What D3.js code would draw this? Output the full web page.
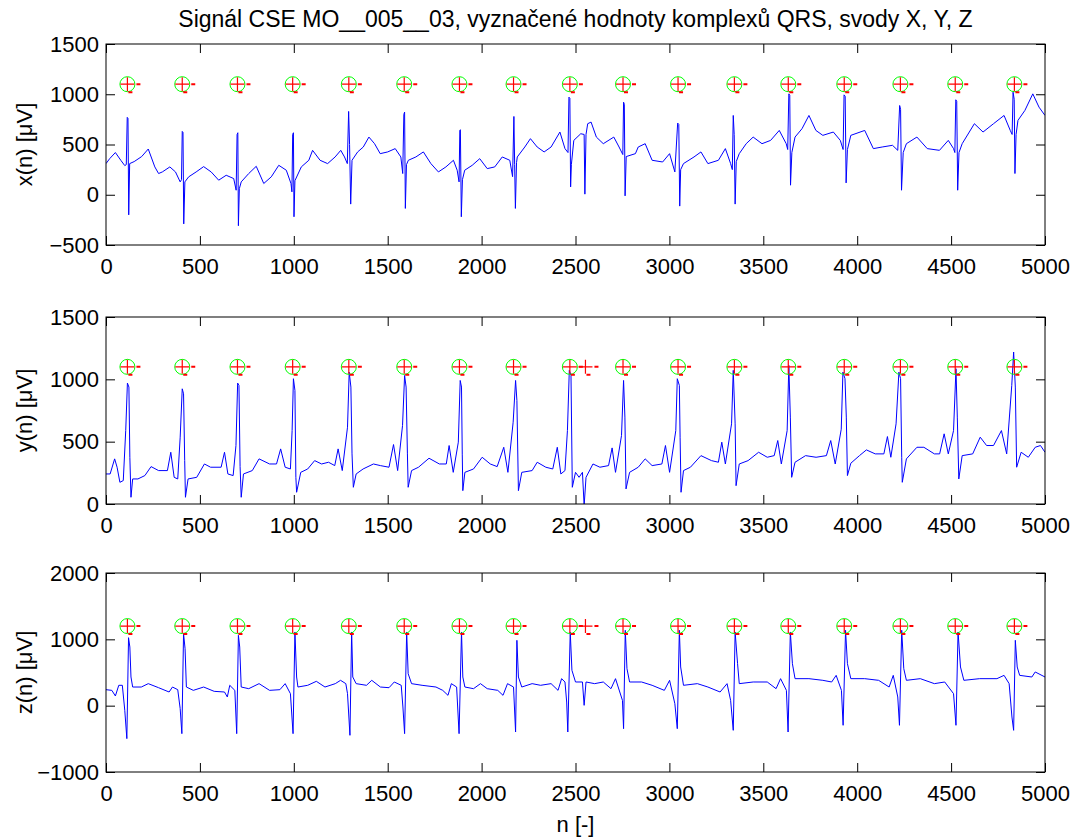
<!DOCTYPE html>
<html>
<head>
<meta charset="UTF-8">
<script src="https://d3js.org/d3.v7.min.js"></script>
<style>
  body { margin: 0; background: #fff; }
  text { font-family: "Liberation Sans", Arial, sans-serif; fill: #000; }
</style>
</head>
<body>
<svg width="1075" height="838"></svg>
<script>
// samples n of the detected QRS complexes
const qrsPos = [114, 406, 700, 994, 1293, 1588, 1882, 2170, 2470, 2753, 3046, 3346, 3633, 3931, 4230, 4522, 4837];
const extraPos = [2553];
const xTicks = [0, 500, 1000, 1500, 2000, 2500, 3000, 3500, 4000, 4500, 5000];

// lead X  [n, uV]
const leadX = [[0,310],[20,360],[50,420],[80,340],[100,290],[108,300],[113,770],[117,760],[121,-200],[126,310],[150,330],[190,380],[225,455],[260,277],[280,211],[300,227],[340,277],[370,227],[395,128],[402,150],[406,630],[410,620],[414,-290],[420,128],[440,178],[480,227],[520,280],[560,227],[600,145],[640,194],[680,161],[693,45],[698,600],[702,617],[705,-308],[710,60],[720,128],[760,211],[800,283],[840,112],[880,178],[920,293],[960,244],[985,112],[990,29],[994,600],[998,617],[1001,-219],[1006,140],[1040,277],[1080,343],[1100,442],[1140,343],[1180,310],[1220,376],[1250,442],[1270,376],[1285,310],[1292,829],[1297,500],[1303,-93],[1310,343],[1340,426],[1370,475],[1400,574],[1430,508],[1460,409],[1500,426],[1540,459],[1570,376],[1580,211],[1586,800],[1590,822],[1594,-136],[1600,300],[1610,343],[1650,376],[1690,426],[1730,310],[1770,227],[1810,277],[1850,343],[1870,244],[1880,128],[1884,640],[1887,647],[1892,-219],[1898,150],[1910,244],[1950,293],[1990,359],[2030,260],[2070,277],[2110,376],[2150,343],[2165,180],[2172,779],[2176,300],[2180,-136],[2186,320],[2190,376],[2230,475],[2260,558],[2296,475],[2333,426],[2370,475],[2417,624],[2444,459],[2460,420],[2465,971],[2470,960],[2474,78],[2478,300],[2491,541],[2528,607],[2546,600],[2550,6],[2556,600],[2565,707],[2583,723],[2611,574],[2648,508],[2704,574],[2732,475],[2752,400],[2756,921],[2760,900],[2764,-11],[2770,380],[2819,409],[2834,475],[2871,508],[2908,343],[2964,326],[3001,409],[3029,227],[3044,713],[3050,700],[3055,-113],[3060,250],[3075,310],[3131,376],[3168,426],[3205,310],[3261,343],[3298,459],[3326,310],[3335,250],[3340,789],[3345,600],[3350,-93],[3356,330],[3372,409],[3409,508],[3446,574],[3493,508],[3539,541],[3585,640],[3622,508],[3630,450],[3636,1004],[3641,990],[3645,95],[3652,420],[3669,574],[3706,657],[3743,789],[3780,640],[3817,591],[3873,624],[3910,541],[3925,450],[3930,994],[3936,980],[3941,118],[3948,450],[3966,591],[4040,640],[4086,459],[4133,475],[4188,492],[4216,442],[4226,888],[4231,850],[4236,45],[4245,420],[4262,508],[4318,574],[4373,459],[4438,442],[4485,541],[4513,459],[4520,420],[4525,945],[4530,930],[4535,45],[4542,420],[4559,508],[4624,707],[4670,624],[4726,707],[4782,789],[4815,640],[4825,600],[4830,1020],[4836,950],[4840,211],[4846,600],[4856,740],[4893,839],[4935,1004],[4968,872],[5000,789]];

// lead Y  [n, uV]
const leadY = [[0,241],[22,241],[46,362],[59,295],[74,174],[92,188],[105,589],[114,970],[122,938],[127,375],[133,54],[142,201],[170,201],[207,228],[240,300],[280,268],[327,268],[345,415],[363,214],[382,201],[395,536],[406,924],[413,884],[419,348],[423,54],[437,201],[483,214],[524,321],[557,295],[613,295],[631,415],[649,241],[677,228],[692,469],[701,970],[708,951],[714,300],[720,54],[732,241],[779,268],[815,362],[871,321],[908,321],[930,442],[954,295],[982,281],[991,589],[998,1005],[1006,911],[1011,214],[1015,94],[1037,254],[1074,281],[1111,348],[1148,321],[1185,335],[1218,308],[1236,442],[1258,268],[1286,616],[1295,1058],[1304,938],[1310,402],[1317,134],[1332,241],[1369,281],[1424,321],[1461,308],[1507,295],[1531,477],[1553,268],[1579,630],[1590,1031],[1598,938],[1605,402],[1609,134],[1627,268],[1664,295],[1720,367],[1775,321],[1812,321],[1827,469],[1849,254],[1876,496],[1886,991],[1893,938],[1897,400],[1900,107],[1911,254],[1957,281],[2003,375],[2046,321],[2083,300],[2118,455],[2140,254],[2168,656],[2181,991],[2188,830],[2196,107],[2214,254],[2269,268],[2296,335],[2342,295],[2379,281],[2403,455],[2422,241],[2444,268],[2457,589],[2467,1072],[2476,1031],[2483,134],[2500,254],[2519,214],[2537,254],[2546,-13],[2556,214],[2593,321],[2630,295],[2676,308],[2695,450],[2713,254],[2745,549],[2756,991],[2763,697],[2769,121],[2788,254],[2834,295],[2871,362],[2908,308],[2960,321],[2979,469],[3001,254],[3034,589],[3042,1005],[3053,951],[3057,536],[3062,94],[3075,268],[3112,295],[3168,388],[3224,348],[3261,335],[3279,496],[3298,321],[3331,643],[3340,1072],[3350,643],[3355,147],[3372,321],[3419,348],[3475,415],[3521,375],[3558,388],[3577,509],[3596,321],[3627,589],[3636,1112],[3644,697],[3651,214],[3669,335],[3725,388],[3781,375],[3836,388],[3859,509],[3883,321],[3915,600],[3924,1058],[3935,1005],[3942,697],[3948,228],[3966,327],[4012,388],[4049,434],[4096,402],[4142,402],[4161,541],[4179,375],[4207,643],[4222,1058],[4231,1005],[4237,375],[4240,174],[4262,362],[4318,455],[4355,455],[4411,402],[4439,402],[4463,563],[4485,402],[4513,589],[4526,1085],[4533,697],[4541,201],[4559,388],[4615,402],[4655,536],[4689,469],[4726,469],[4768,589],[4796,402],[4823,951],[4833,1219],[4842,938],[4849,295],[4873,415],[4911,375],[4948,455],[4976,469],[5000,415]];

// lead Z  [n, uV]
const leadZ = [[0,241],[31,231],[50,146],[68,307],[87,307],[100,-70],[111,-497],[120,1025],[127,884],[133,432],[142,281],[188,281],[225,332],[280,271],[336,206],[354,281],[382,241],[395,-45],[404,-422],[413,1085],[421,859],[428,281],[465,231],[520,281],[576,216],[631,206],[646,131],[659,307],[686,231],[696,-422],[705,1060],[712,884],[720,281],[760,256],[815,332],[871,231],[926,241],[954,332],[982,181],[996,-422],[1006,1111],[1015,432],[1022,281],[1074,307],[1120,367],[1166,281],[1221,332],[1249,382],[1277,332],[1286,181],[1299,-447],[1308,1111],[1314,432],[1332,332],[1387,307],[1415,382],[1461,281],[1507,271],[1535,357],[1572,307],[1581,-20],[1590,-422],[1601,1111],[1609,482],[1627,332],[1683,307],[1757,281],[1793,231],[1821,156],[1839,332],[1867,281],[1880,-422],[1893,1111],[1900,432],[1911,281],[1957,256],[1994,332],[2030,256],[2086,231],[2114,156],[2138,332],[2170,281],[2181,-397],[2188,985],[2196,432],[2214,281],[2269,332],[2314,307],[2370,332],[2407,231],[2426,407],[2444,357],[2453,55],[2459,-397],[2472,1111],[2481,533],[2500,357],[2537,357],[2546,5],[2556,357],[2602,332],[2648,357],[2689,256],[2713,407],[2750,80],[2756,-347],[2765,1136],[2774,558],[2788,357],[2852,357],[2908,307],[2973,231],[3001,382],[3029,30],[3042,-347],[3053,1136],[3060,583],[3075,307],[3149,332],[3205,281],[3270,206],[3307,332],[3326,80],[3340,-372],[3350,1111],[3363,633],[3372,332],[3446,357],[3521,357],[3568,256],[3592,407],[3623,231],[3632,-397],[3644,1111],[3655,633],[3669,407],[3743,407],[3817,382],[3864,357],[3888,457],[3916,231],[3925,-296],[3938,1136],[3948,633],[3966,407],[4040,407],[4114,382],[4170,281],[4192,457],[4216,131],[4225,-296],[4237,1136],[4248,558],[4262,382],[4336,407],[4411,332],[4466,357],[4513,181],[4526,-296],[4537,1111],[4550,583],[4568,382],[4652,407],[4744,407],[4782,457],[4809,332],[4824,-171],[4833,-372],[4842,985],[4852,583],[4865,457],[4930,432],[4948,508],[5000,432]];

const panels = [
  { data: leadX, top: 44, bottom: 245, domain: [-500, 1500], ticks: [-500, 0, 500, 1000, 1500], mark: 1100, label: "x(n) [\u03bcV]", extra: false },
  { data: leadY, top: 317, bottom: 504, domain: [0, 1500], ticks: [0, 500, 1000, 1500], mark: 1100, label: "y(n) [\u03bcV]", extra: true },
  { data: leadZ, top: 573, bottom: 772, domain: [-1000, 2000], ticks: [-1000, 0, 1000, 2000], mark: 1200, label: "z(n) [\u03bcV]", extra: true }
];

const svg = d3.select("svg");
const left = 106, right = 1045, fs = 22;
const x = d3.scaleLinear().domain([0, 5000]).range([left, right]);
const fmt = d3.format("d");

svg.append("text")
  .attr("x", (left + right) / 2).attr("y", 27)
  .attr("text-anchor", "middle").attr("font-size", 23)
  .text("Signál CSE MO__005__03, vyznačené hodnoty komplexů QRS, svody X, Y, Z");

panels.forEach((p, i) => {
  const y = d3.scaleLinear().domain(p.domain).range([p.bottom, p.top]);
  const g = svg.append("g");

  g.append("clipPath").attr("id", "clip" + i)
    .append("rect").attr("x", left).attr("y", p.top)
    .attr("width", right - left).attr("height", p.bottom - p.top);

  const line = d3.line().x(d => x(d[0])).y(d => y(d[1]));
  g.append("path")
    .attr("clip-path", `url(#clip${i})`)
    .attr("fill", "none").attr("stroke", "#0000ff").attr("stroke-width", 1)
    .attr("d", line(p.data));

  // axes, ticks pointing inward
  const ax = [
    [d3.axisBottom(x).tickValues(xTicks).tickSize(-9).tickPadding(13).tickFormat(fmt), `translate(0,${p.bottom})`],
    [d3.axisTop(x).tickValues(xTicks).tickSize(-9).tickFormat(""), `translate(0,${p.top})`],
    [d3.axisLeft(y).tickValues(p.ticks).tickSize(-9).tickPadding(7).tickFormat(fmt), `translate(${left},0)`],
    [d3.axisRight(y).tickValues(p.ticks).tickSize(-9).tickFormat(""), `translate(${right},0)`]
  ];
  ax.forEach(([a, tr]) => {
    const ag = g.append("g").attr("transform", tr).call(a.tickSizeOuter(0));
    ag.select(".domain").remove();
    ag.selectAll("line").attr("stroke", "#000");
    ag.selectAll("text").attr("font-size", fs).attr("font-family", "Liberation Sans, Arial, sans-serif").attr("fill", "#000");
  });
  // bottom labels: cap top sits at the padding line
  g.selectAll("text").filter(function () { return this.getAttribute("dy") === "0.71em"; }).attr("dy", "0.71em");

  g.append("rect")
    .attr("x", left).attr("y", p.top)
    .attr("width", right - left).attr("height", p.bottom - p.top)
    .attr("fill", "none").attr("stroke", "#000").attr("stroke-width", 1);

  g.append("text")
    .attr("transform", `translate(32,${(p.top + p.bottom) / 2}) rotate(-90)`)
    .attr("text-anchor", "middle").attr("font-size", fs)
    .text(p.label);

  // QRS markers: green circle, red cross and small red dashes
  const my = y(p.mark);
  const marks = g.append("g");
  const drawCross = (cx, withCircle) => {
    if (withCircle) {
      marks.append("circle").attr("cx", cx).attr("cy", my).attr("r", 7.5)
        .attr("fill", "none").attr("stroke", "#00ff00").attr("stroke-width", 1);
    }
    marks.append("path")
      .attr("d", `M${cx - 7},${my}H${cx + 7}M${cx},${my - 7}V${my + 7}`)
      .attr("stroke", "#ff0000").attr("stroke-width", 1.2);
    marks.append("path")
      .attr("d", `M${cx + 9},${my}H${cx + 13}M${cx + 1},${my + 8}H${cx + 5}`)
      .attr("stroke", "#ff0000").attr("stroke-width", 2);
  };
  qrsPos.forEach(n => drawCross(x(n), true));
  if (p.extra) extraPos.forEach(n => drawCross(x(n), false));
});

svg.append("text")
  .attr("x", (left + right) / 2).attr("y", 832)
  .attr("text-anchor", "middle").attr("font-size", fs)
  .text("n [-]");
</script>
</body>
</html>
